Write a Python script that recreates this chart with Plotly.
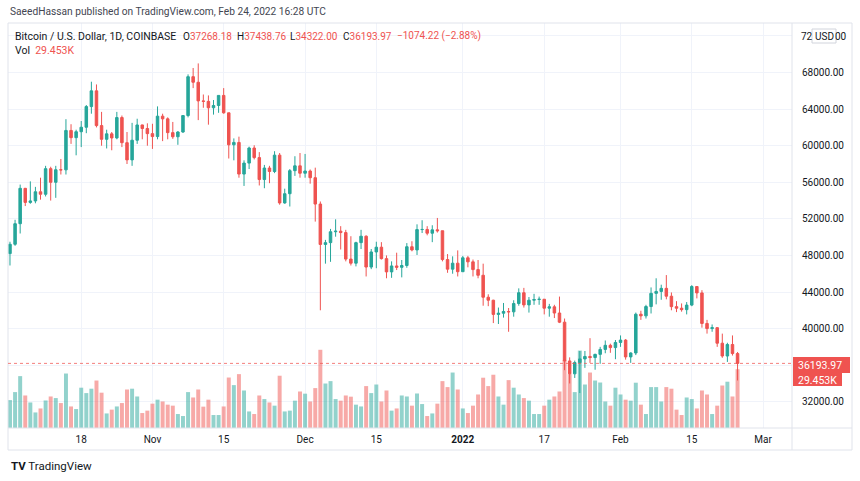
import pandas as pd
import plotly.graph_objects as go

# ---------------- data ----------------
dates = pd.date_range("2021-10-04", "2022-02-24", freq="D")

opens = [
    # Oct
    48200, 49220, 51470, 55340, 53800, 53960, 54960, 54690, 57490, 56000, 57370, 57360, 61670, 60880,
    61530, 62020, 64280, 66000, 62200, 60700, 61300, 60850, 63080, 60330, 58450, 60600, 62270, 61880,
    # Nov
    61320, 61000, 63230, 62940, 61430, 60980, 61500, 63300, 67550, 66940, 64900, 64850, 64150, 64400, 65500,
    63600, 60100, 60360, 56900, 58100, 59750, 58700, 56300, 57560, 57180, 58970, 53740, 54750, 57270, 57800,
    # Dec
    56990, 57230, 56500, 53620, 49200, 49400, 50590, 50650, 50500, 47600, 47150, 49400, 50100, 46730, 48380, 48900,
    47650, 46200, 46850, 46700, 46900, 48950, 48600, 50830, 50840, 50430, 50800, 50700, 47550, 46500, 47150,
    # Jan
    46220, 47740, 47300, 46450, 45830, 43430, 43100, 41550, 41680, 41870, 41830, 42740, 43920, 42590, 43100, 43180,
    43210, 42230, 42380, 41700, 40700, 36460, 35050, 36280, 36680, 36950, 36830, 37180, 37720, 38170, 37920,
    # Feb
    38480, 38740, 36900, 37330, 41570, 41390, 42410, 43850, 44060, 44400, 43540, 42400, 42230, 42070, 42570, 44600,
    43900, 40560, 40000, 40100, 38400, 37000, 38260, 37268.18,
]
highs = [
    49500, 51900, 55750, 55380, 56100, 55500, 56500, 57800, 57700, 57800, 58550, 62900, 62350, 61750,
    62700, 64450, 67000, 66700, 63700, 61750, 61500, 63700, 63300, 61500, 62500, 62950, 62300, 62450,
    62400, 64300, 63500, 63100, 62600, 61600, 63300, 67800, 68500, 69000, 65600, 65500, 65000, 65500, 66300,
    63600, 60800, 60990, 58400, 59900, 60050, 59300, 57900, 57800, 59400, 59200, 55300, 57450, 58850, 59200,
    59100, 57400, 57600, 53900, 49700, 50900, 51950, 51200, 50800, 50100, 49500, 50800, 50200, 48700, 49500, 49450,
    48000, 47350, 48300, 47500, 49350, 49550, 51400, 51850, 51200, 51300, 52100, 50700, 48150, 47900, 48550,
    47950, 47950, 47550, 47500, 47100, 43750, 43150, 42300, 42800, 42250, 43100, 44400, 44450, 43450, 43800, 43500,
    43200, 42700, 42600, 43500, 41100, 36850, 36500, 37550, 37550, 38950, 37250, 38000, 38700, 38350, 38750,
    39250, 38850, 37400, 41750, 41950, 42600, 44500, 45500, 44800, 45850, 43950, 43000, 42750, 42900, 44750, 44600,
    44200, 40950, 40450, 40150, 39450, 38450, 39250, 37438.76,
]
lows = [
    46900, 49050, 50400, 53400, 53650, 53700, 54100, 54450, 54000, 54300, 56850, 56850, 60200, 58950,
    59850, 61370, 63500, 62000, 60000, 59700, 59500, 60700, 59850, 58000, 57800, 60200, 60700, 60000,
    59650, 60700, 60500, 60700, 60750, 60100, 61400, 63100, 66300, 62800, 64150, 62300, 63400, 63600, 63500,
    58600, 58400, 56500, 55600, 57450, 58500, 55650, 55350, 55900, 57000, 53550, 53650, 53350, 56700, 56500,
    56500, 55850, 51700, 42000, 47100, 47300, 50050, 48650, 47350, 46900, 46800, 48700, 45700, 46500, 46600, 47550,
    45500, 45550, 46400, 45600, 46650, 48450, 48050, 50450, 50200, 49450, 50500, 47350, 46100, 46000, 45700,
    46200, 46700, 45700, 45500, 42500, 42450, 40600, 40500, 41200, 39650, 41300, 42500, 42300, 41750, 42600, 42600,
    41550, 41300, 41150, 40600, 35450, 34000, 34600, 32950, 35700, 36250, 35500, 36150, 37300, 37350, 36650,
    38000, 36600, 36250, 37100, 40950, 41100, 41650, 42650, 43150, 43200, 42000, 41800, 41850, 41550, 42450, 43300,
    40100, 39450, 39650, 38000, 36800, 36350, 37050, 34322.00,
]
closes = [
    49220, 51470, 55340, 53800, 53960, 54960, 54690, 57490, 56000, 57370, 57360, 61670, 60880, 61530,
    62020, 64280, 66000, 62200, 60700, 61300, 60850, 63080, 60330, 58450, 60600, 62270, 61880, 61320,
    61000, 63230, 62940, 61430, 60980, 61500, 63300, 67550, 66940, 64900, 64850, 64150, 64400, 65500, 63600,
    60100, 60360, 56900, 58100, 59750, 58700, 56300, 57560, 57180, 58970, 53740, 54750, 57270, 57800, 56990,
    57230, 56500, 53620, 49200, 49400, 50590, 50650, 50500, 47600, 47150, 49400, 50100, 46730, 48380, 48900, 47650,
    46200, 46850, 46700, 46900, 48950, 48600, 50830, 50840, 50430, 50800, 50700, 47550, 46500, 47150, 46220,
    47740, 47300, 46450, 45830, 43430, 43100, 41550, 41680, 41870, 41830, 42740, 43920, 42590, 43100, 43180, 43210,
    42230, 42380, 41700, 40700, 36460, 35050, 36280, 36680, 36950, 36830, 37180, 37720, 38170, 37920, 38480,
    38740, 36900, 37330, 41570, 41390, 42410, 43850, 44060, 44400, 43540, 42400, 42230, 42070, 42570, 44600, 43900,
    40560, 40000, 40100, 38400, 37000, 38260, 37268.18, 36193.97,
]
volumes_k = [
    14.0, 18.0, 26.0, 16.3, 12.8, 7.8, 9.8, 13.8, 15.8, 15.0, 12.5, 27.3, 10.8, 9.5,
    20.2, 17.5, 19.7, 23.8, 17.7, 7.3, 9.2, 10.8, 12.5, 19.3, 19.7, 15.8, 7.5, 8.7,
    12.2, 14.2, 13.3, 11.7, 11.2, 7.0, 6.0, 18.0, 15.3, 19.3, 10.7, 14.2, 6.5, 6.5, 10.8,
    25.3, 21.5, 27.0, 18.8, 8.3, 7.0, 16.3, 14.5, 12.8, 11.2, 26.2, 8.3, 8.7, 13.7, 18.3,
    17.2, 13.3, 20.0, 39.2, 22.3, 23.5, 14.5, 13.7, 16.3, 15.7, 11.7, 10.8, 21.0, 17.5, 21.8, 13.3,
    18.8, 8.7, 9.8, 16.3, 15.8, 11.2, 17.3, 12.0, 6.0, 7.3, 12.2, 23.5, 20.5, 27.8, 19.3,
    9.8, 7.5, 11.2, 16.8, 25.2, 21.0, 26.7, 15.8, 11.7, 24.0, 20.2, 16.8, 15.0, 13.7, 7.0, 7.0,
    11.2, 14.2, 15.8, 18.3, 34.0, 27.0, 18.0, 38.8, 21.8, 27.8, 23.8, 22.8, 13.3, 11.2, 20.2,
    16.8, 14.2, 13.7, 22.7, 11.7, 7.0, 20.5, 20.5, 13.3, 20.5, 19.7, 9.2, 6.5, 15.3, 14.5, 9.8,
    18.8, 16.8, 7.0, 11.2, 21.3, 23.2, 15.8, 29.453,
]

x_tick_dates = ["2021-10-18", "2021-11-01", "2021-11-15", "2021-12-01", "2021-12-15",
                "2022-01-01", "2022-01-17", "2022-02-01", "2022-02-15", "2022-03-01"]
x_tick_labels = ["18", "Nov", "15", "Dec", "15", "<b>2022</b>", "17", "Feb", "15", "Mar"]
price_ticks = [32000, 36000, 40000, 44000, 48000, 52000, 56000, 60000, 64000, 68000, 72000]
price_tick_labels = ["32000.00", "", "40000.00", "44000.00", "48000.00", "52000.00",
                     "56000.00", "60000.00", "64000.00", "68000.00", ""]
top_tick_pieces = ("72", "00")   # the 72000.00 label, partly hidden by the USD badge

last_price = 36193.97
last_volume_label = "29.453K"
header_text = "SaeedHassan published on TradingView.com, Feb 24, 2022 16:28 UTC"
symbol_text = "Bitcoin / U.S. Dollar, 1D, COINBASE"
ohlc_items = [("O", "37268.18"), ("H", "37438.76"), ("L", "34322.00"), ("C", "36193.97")]
change_text = "\u22121074.22 (\u22122.88%)"

# ---------------- styling ----------------
W, H = 860, 481
L, R, T, B = 8, 792, 23, 428          # plot area in pixels
UP, DOWN = "#26a69a", "#ef5350"
UP_V, DOWN_V = "rgba(38,166,154,0.5)", "rgba(239,83,80,0.5)"
TXT = "#131722"
GRID = "#f0f3fa"
BORDER = "#e0e3eb"
FONT = "Roboto"


def px(x):
    return (x - L) / (R - L)


def py(y):
    return (B - y) / (B - T)


vol_colors = [UP_V if c >= o else DOWN_V for o, c in zip(opens, closes)]

fig = go.Figure()
fig.add_trace(go.Bar(x=dates, y=volumes_k, marker=dict(color=vol_colors, line=dict(width=0)),
                     yaxis="y", hoverinfo="skip", showlegend=False))
fig.add_trace(go.Candlestick(
    x=dates, open=opens, high=highs, low=lows, close=closes, yaxis="y2",
    increasing=dict(line=dict(color=UP, width=1), fillcolor=UP),
    decreasing=dict(line=dict(color=DOWN, width=1), fillcolor=DOWN),
    whiskerwidth=0, showlegend=False))

day0 = dates[0]
x_start = day0 + pd.Timedelta(days=-0.39)
x_end = day0 + pd.Timedelta(days=153.7)

fig.update_layout(
    width=W, height=H,
    margin=dict(l=L, r=W - R, t=T, b=H - B, pad=0),
    paper_bgcolor="white", plot_bgcolor="white",
    font=dict(family=FONT, color=TXT, size=10),
    bargap=0.22, boxgap=0.3,
    xaxis=dict(range=[x_start, x_end], type="date", tickvals=x_tick_dates, ticktext=x_tick_labels,
               showgrid=True, gridcolor=GRID, gridwidth=1, zeroline=False, showline=False,
               ticks="", ticklabelstandoff=4, tickfont=dict(size=10, color=TXT),
               rangeslider=dict(visible=False), fixedrange=True),
    yaxis=dict(range=[0, 203], visible=False, fixedrange=True),
    yaxis2=dict(range=[29126, 73421], overlaying="y", side="right", anchor="x",
                tickvals=price_ticks, ticktext=price_tick_labels,
                showgrid=True, gridcolor=GRID, gridwidth=1, zeroline=False, showline=False,
                ticks="", ticklabelstandoff=9, tickfont=dict(size=10, color=TXT), fixedrange=True),
)

shapes = [
    # widget border and separators
    dict(type="rect", xref="paper", yref="paper", x0=px(8), x1=px(852), y0=py(450), y1=py(23),
         line=dict(color=BORDER, width=1), layer="above"),
    dict(type="line", xref="paper", yref="paper", x0=px(8), x1=px(852), y0=py(428), y1=py(428),
         line=dict(color=BORDER, width=1)),
    dict(type="line", xref="paper", yref="paper", x0=px(792), x1=px(792), y0=py(450), y1=py(23),
         line=dict(color=BORDER, width=1)),
    # last price dotted line
    dict(type="line", xref="paper", yref="y2", x0=0, x1=1, y0=last_price, y1=last_price,
         line=dict(color="rgba(239,83,80,0.75)", width=1, dash="dot")),
    # price / volume label boxes
    dict(type="rect", xref="paper", yref="paper", x0=px(793), x1=px(850), y0=py(373), y1=py(357),
         fillcolor=DOWN, line=dict(width=0), layer="above"),
    dict(type="rect", xref="paper", yref="paper", x0=px(793), x1=px(842), y0=py(386), y1=py(373),
         fillcolor=DOWN, line=dict(width=0), layer="above"),
    # USD badge
    dict(type="rect", xref="paper", yref="paper", x0=px(812), x1=px(836), y0=py(43), y1=py(29),
         fillcolor="white", line=dict(color="#d1d4dc", width=1), layer="above"),
]
fig.update_layout(shapes=shapes)

ann = []


def text(x, y, s, size=10, color=TXT, anchor="left"):
    ann.append(dict(xref="paper", yref="paper", x=px(x), y=py(y), text=s, showarrow=False,
                    xanchor=anchor, yanchor="middle", xshift=0, borderpad=0,
                    font=dict(family=FONT, size=size, color=color)))


text(9, 12, header_text, size=10.2, color="#434651")
text(14, 36, symbol_text, size=10.5)
ohlc_x = [182, 236, 289, 342]
for (k, v), xx in zip(ohlc_items, ohlc_x):
    text(xx, 36, f"{k}<span style='color:{DOWN}'>{v}</span>", size=10)
text(396, 36, change_text, size=10, color=DOWN)
text(14, 51, f"Vol  <span style='color:{DOWN}'>{last_volume_label}</span>", size=10.5)
text(797, 365, f"{last_price:.2f}", size=10.5, color="white")
text(797, 380, last_volume_label, size=10.5, color="white")
text(824, 36, "USD", size=10, anchor="center")
text(800, 36, top_tick_pieces[0], size=10)
text(848, 36, top_tick_pieces[1], size=10, anchor="right")
text(10, 466, "<b>TV</b> TradingView", size=11.5, color="#131722")
fig.update_layout(annotations=ann)

fig.write_html("out.html", config={"displayModeBar": False},
               post_script="document.body.style.margin='0';document.body.style.padding='0';")
